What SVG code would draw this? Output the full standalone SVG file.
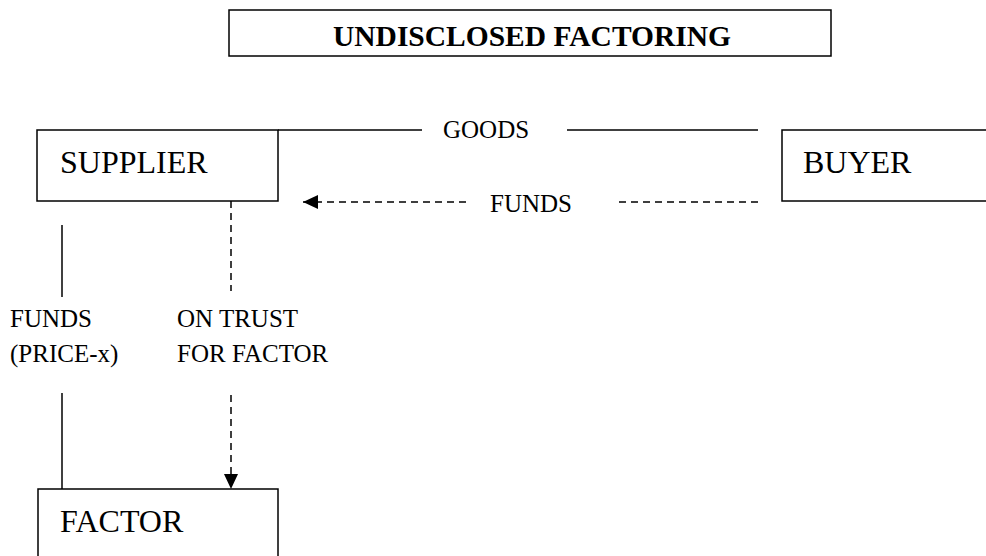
<svg xmlns="http://www.w3.org/2000/svg" width="986" height="556" viewBox="0 0 986 556">
<style>
.box{fill:#fff;stroke:#000;stroke-width:1.5}
.node{font-size:32px}
.lbl{font-size:25px}
.title{font-size:29.5px;font-weight:bold}
.solid{stroke:#000;stroke-width:1.5;fill:none}
.dash{stroke:#000;stroke-width:1.5;fill:none;stroke-dasharray:7 5}
</style>
<defs>
<marker id="ahb" viewBox="0 0 15 14" refX="15" refY="7" markerWidth="15" markerHeight="14" markerUnits="userSpaceOnUse" orient="auto">
<path d="M0,0 L15,7 L0,14 z" fill="#000"/>
</marker>
</defs>
<g font-family="Liberation Serif, DejaVu Serif, serif" fill="#000">
<g id="title">
<rect class="box" x="229" y="10" width="602" height="46"/>
<text class="title" x="532" y="46" text-anchor="middle">UNDISCLOSED FACTORING</text>
</g>
<g id="supplier">
<rect class="box" x="37" y="130" width="241" height="71"/>
<text class="node" x="60" y="173">SUPPLIER</text>
</g>
<g id="buyer">
<rect class="box" x="782" y="130" width="220" height="71"/>
<text class="node" x="803" y="173">BUYER</text>
</g>
<g id="factor">
<rect class="box" x="38" y="489" width="240" height="80"/>
<text class="node" x="60" y="532">FACTOR</text>
</g>
<g id="connectors">
<line class="solid" x1="278" y1="130" x2="422" y2="130"/>
<line class="solid" x1="567" y1="130" x2="758" y2="130"/>
<line class="dash" x1="758" y1="202" x2="614" y2="202"/>
<line class="dash" x1="466" y1="202" x2="303" y2="202" marker-end="url(#ahb)"/>
<line class="dash" x1="231" y1="201" x2="231" y2="291"/>
<line class="dash" x1="231" y1="395" x2="231" y2="489" marker-end="url(#ahb)"/>
<line class="solid" x1="62" y1="225" x2="62" y2="297"/>
<line class="solid" x1="62" y1="393" x2="62" y2="489"/>
</g>
<g id="labels">
<text class="lbl" x="443" y="138">GOODS</text>
<text class="lbl" x="490" y="212">FUNDS</text>
<text class="lbl" x="10" y="327">FUNDS</text>
<text class="lbl" x="10" y="362">(PRICE-x)</text>
<text class="lbl" x="177" y="327">ON TRUST</text>
<text class="lbl" x="177" y="362">FOR FACTOR</text>
</g>
</g>
</svg>
